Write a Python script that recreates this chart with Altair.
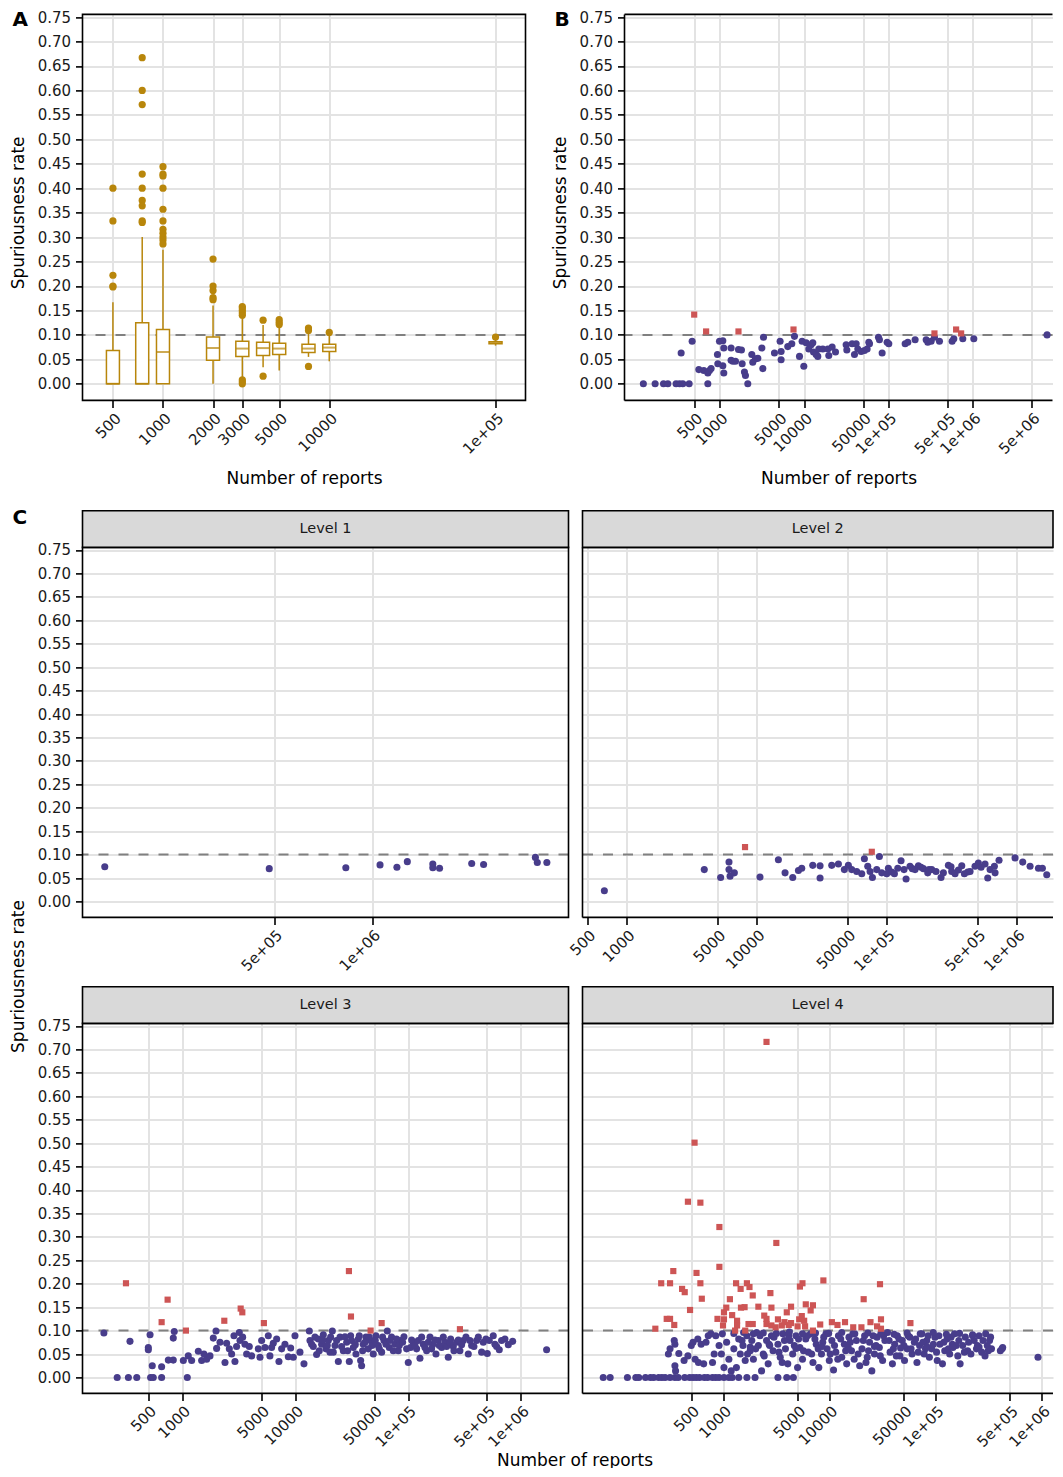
import altair as alt
import pandas as pd

FONT = "DejaVu Sans"
PURPLE = "#483D8B"
RED = "#CD5555"
GOLD = "#B8860B"
GRID = "#E3E3E3"
DASH = "#808080"
INK = "#1A1A1A"

Y_TICKS = [0.0, 0.05, 0.1, 0.15, 0.2, 0.25, 0.3, 0.35, 0.4, 0.45, 0.5, 0.55, 0.6, 0.65, 0.7, 0.75]
THRESHOLD = [0.1]
Y_DOMAIN = [-0.034, 0.7555]

# ---------------- Panel A : box summaries per number of reports
a_reports = [500, 750, 1000, 2000, 3000, 4000, 5000, 7500, 10000, 100000]
a_lower = [0.0, 0.0, 0.0, 0.0, 0.007, 0.034, 0.027, 0.055, 0.046, 0.078]
a_q1 = [0.0, 0.0, 0.0, 0.048, 0.056, 0.058, 0.060, 0.064, 0.066, 0.082]
a_median = [0.0, 0.0, 0.065, 0.073, 0.072, 0.073, 0.072, 0.072, 0.074, 0.084]
a_q3 = [0.068, 0.125, 0.111, 0.0955, 0.087, 0.085, 0.083, 0.081, 0.081, 0.086]
a_upper = [0.167, 0.300, 0.274, 0.160, 0.133, 0.120, 0.116, 0.106, 0.099, 0.093]
a_outliers = [
    (500, 0.400), (500, 0.333), (500, 0.222), (500, 0.200), (500, 0.198),
    (750, 0.667), (750, 0.600), (750, 0.571), (750, 0.429), (750, 0.400), (750, 0.375),
    (750, 0.364), (750, 0.333), (750, 0.330),
    (1000, 0.444), (1000, 0.429), (1000, 0.425), (1000, 0.400), (1000, 0.357), (1000, 0.333),
    (1000, 0.316), (1000, 0.308), (1000, 0.300), (1000, 0.294), (1000, 0.286),
    (2000, 0.255), (2000, 0.200), (2000, 0.191), (2000, 0.176), (2000, 0.172),
    (3000, 0.158), (3000, 0.155), (3000, 0.150), (3000, 0.145), (3000, 0.140),
    (3000, 0.008), (3000, 0.004), (3000, 0.0),
    (4000, 0.130), (4000, 0.0155),
    (5000, 0.131), (5000, 0.126), (5000, 0.121),
    (7500, 0.114), (7500, 0.109), (7500, 0.0355),
    (10000, 0.105),
    (100000, 0.0955),
]

# ---------------- Panel B : (number of reports, spuriousness rate)
b_points = [
    (124, 0), (171, 0), (215, 0), (242, 0), (303, 0), (333, 0), (364, 0), (433, 0), (721, 0),
    (348, 0.063), (470, 0.087), (564, 0.029), (646, 0.027), (721, 0.022), (754, 0.027), (789, 0.031),
    (947, 0.041), (938, 0.060), (991, 0.087), (1086, 0.088), (1086, 0.037), (1115, 0.022), (1115, 0.073),
    (1361, 0.048), (1361, 0.073), (1426, 0.046), (1534, 0.046), (1665, 0.070), (1806, 0.069), (1841, 0.041),
    (1960, 0.024), (2014, 0.017), (2147, 0.0), (2395, 0.060), (2460, 0.044), (2647, 0.051), (2823, 0.052),
    (3150, 0.073), (3297, 0.095), (3236, 0.031), (4447, 0.063), (5188, 0.087), (5333, 0.066), (5333, 0.049),
    (6397, 0.076), (7140, 0.082), (7680, 0.097), (8810, 0.056), (9460, 0.087), (9910, 0.036), (10570, 0.084),
    (11360, 0.071), (12100, 0.080), (12670, 0.084), (12910, 0.065), (13870, 0.060), (14520, 0.056),
    (14930, 0.071), (16640, 0.071), (19100, 0.071), (19600, 0.058), (21480, 0.075), (23550, 0.065),
    (31480, 0.080), (32070, 0.069), (37070, 0.082), (39540, 0.060), (41400, 0.082), (43280, 0.071),
    (47420, 0.066), (51880, 0.068), (55840, 0.071), (58450, 0.085), (59570, 0.082), (76100, 0.095),
    (78200, 0.090), (84100, 0.063), (96400, 0.085), (100900, 0.082), (157700, 0.082), (169500, 0.085),
    (207000, 0.090), (280000, 0.090), (292600, 0.085), (320600, 0.087), (351000, 0.095), (402500, 0.087),
    (568800, 0.087), (595700, 0.092), (760800, 0.092), (1028000, 0.092), (7600000, 0.100),
]
b_above = [(497, 0.1415), (688, 0.107), (1665, 0.107), (7480, 0.111), (351000, 0.103), (634000, 0.111), (727000, 0.103)]

# ---------------- Panel C, Level 1
l1_points = [
    (151000, 0.074), (483000, 0.070), (830000, 0.072), (1057000, 0.078), (1191000, 0.073), (1282000, 0.085),
    (1535000, 0.080), (1535000, 0.072), (1610000, 0.071), (2021000, 0.081), (2198000, 0.079),
    (3170000, 0.094), (3213000, 0.083), (3438000, 0.083),
]
l1_above = []

# ---------------- Panel C, Level 2
l2_points = [
    (673, 0.023), (3950, 0.068), (5280, 0.051), (6120, 0.084), (6120, 0.068), (6240, 0.054), (6730, 0.061),
    (10600, 0.052), (14680, 0.089), (16520, 0.061), (18930, 0.051), (20930, 0.066), (22200, 0.071),
    (26980, 0.077), (30710, 0.076), (30710, 0.050), (37760, 0.077), (42500, 0.080), (47230, 0.068),
    (50690, 0.077), (53800, 0.068), (58780, 0.064), (64260, 0.059), (67330, 0.091), (71450, 0.075),
    (74470, 0.064), (77620, 0.051), (83780, 0.068), (87830, 0.096), (91580, 0.061), (100000, 0.059),
    (103000, 0.071), (109200, 0.063), (114600, 0.059), (121600, 0.071), (128900, 0.087), (135900, 0.068),
    (140900, 0.048), (151100, 0.075), (157400, 0.070), (165200, 0.068), (175300, 0.076), (183600, 0.073),
    (191500, 0.070), (206700, 0.061), (211700, 0.068), (222000, 0.068), (239500, 0.064), (261700, 0.051),
    (272800, 0.061), (298100, 0.077), (312300, 0.074), (316200, 0.064), (335500, 0.059), (356000, 0.067),
    (377800, 0.076), (395700, 0.059), (420000, 0.063), (437600, 0.064), (477900, 0.075), (507100, 0.082),
    (532000, 0.073), (570400, 0.080), (598400, 0.050), (623700, 0.068), (673400, 0.075), (681300, 0.061),
    (731000, 0.088), (970800, 0.093), (1112000, 0.084), (1267000, 0.075), (1469000, 0.071),
    (1575000, 0.071), (1702000, 0.057),
]
l2_above = [(8130, 0.116), (76770, 0.106)]

# ---------------- Panel C, Level 3
l3_points = [
    (202, 0.095), (265, 0), (333, 0), (395, 0), (344, 0.077), (518, 0.091), (500, 0.064), (500, 0.059),
    (524, 0), (553, 0), (542, 0.025), (656, 0.023), (656, 0), (752, 0.037), (832, 0.037), (849, 0.098),
    (832, 0.084), (1021, 0.036), (1107, 0), (1130, 0.046), (1210, 0.036), (1387, 0.056), (1484, 0.036),
    (1555, 0.050), (1643, 0.039), (1759, 0.046), (1882, 0.084), (1988, 0.099), (2014, 0.062), (2157, 0.075),
    (2389, 0.032), (2471, 0.073), (2609, 0.061), (2735, 0.050), (2869, 0.089), (2927, 0.034), (3025, 0.066),
    (3197, 0.096), (3243, 0.079), (3423, 0.086), (3589, 0.071), (3714, 0.050), (3920, 0.066), (4111, 0.046),
    (4712, 0.061), (4876, 0.043), (5044, 0.079), (5399, 0.064), (5776, 0.089), (5970, 0.046), (6180, 0.064),
    (6395, 0.073), (6850, 0.082), (7180, 0.034), (7585, 0.061), (8115, 0.071), (8690, 0.044), (9120, 0.063),
    (9620, 0.043), (9955, 0.089), (11020, 0.054), (11960, 0.029), (13340, 0.099), (13520, 0.079),
    (14460, 0.066), (15480, 0.049), (16030, 0.082), (17150, 0.071), (17750, 0.091), (18740, 0.061),
    (19650, 0.079), (20330, 0.054), (21330, 0.099), (22510, 0.068), (24110, 0.034), (24950, 0.086),
    (26690, 0.057), (28590, 0.075), (30150, 0.034), (30980, 0.089), (32730, 0.064), (34530, 0.050),
    (36230, 0.082), (37990, 0.036), (38760, 0.025), (40080, 0.071), (42340, 0.086), (44400, 0.061),
    (46560, 0.079), (49170, 0.050), (51910, 0.089), (54440, 0.068), (58320, 0.054), (61150, 0.079),
    (65450, 0.099), (68130, 0.064), (71390, 0.086), (76500, 0.071), (81860, 0.057), (85930, 0.079),
    (91900, 0.087), (100400, 0.032), (105200, 0.064), (111100, 0.075), (119000, 0.061), (127400, 0.041),
    (136400, 0.071), (145900, 0.057), (156300, 0.086), (165000, 0.070), (176600, 0.050), (185100, 0.079),
    (198200, 0.064), (212200, 0.075), (227000, 0.043), (238200, 0.082), (251400, 0.066), (269000, 0.075),
    (287900, 0.057), (308300, 0.079), (341400, 0.050), (365600, 0.068), (404900, 0.079), (448100, 0.054),
    (489400, 0.082), (502800, 0.051), (568200, 0.089), (608400, 0.066), (642400, 0.059), (721000, 0.082),
    (843800, 0.077), (1687000, 0.059),
    (13990, 0.071), (14960, 0.086), (16340, 0.057), (17500, 0.080), (19240, 0.068), (20600, 0.086),
    (21740, 0.054), (23280, 0.079), (25760, 0.066), (27590, 0.087), (29120, 0.057), (31600, 0.079),
    (34060, 0.070), (36960, 0.089), (39550, 0.057), (41490, 0.075), (45300, 0.086), (47850, 0.068),
    (51200, 0.079), (55570, 0.061), (59450, 0.086), (63640, 0.071), (69050, 0.079), (73920, 0.057),
    (79090, 0.082), (83530, 0.068), (89460, 0.075), (97080, 0.061), (107500, 0.080), (115100, 0.068),
    (123100, 0.079), (131800, 0.086), (141000, 0.064), (150900, 0.075), (161500, 0.061), (172900, 0.080),
    (188900, 0.068), (205000, 0.086), (219400, 0.066), (234900, 0.075), (254800, 0.057), (278400, 0.080),
    (298000, 0.070), (325700, 0.086), (353200, 0.079), (383100, 0.066), (418800, 0.086), (463700, 0.075),
    (524000, 0.079), (587700, 0.071), (673400, 0.079), (772400, 0.070),
]
l3_above = [
    (317, 0.201), (741, 0.166), (656, 0.118), (1077, 0.100), (2355, 0.121), (3289, 0.147), (3400, 0.139),
    (5280, 0.116), (29920, 0.227), (31190, 0.130), (46560, 0.100), (58320, 0.116), (287900, 0.103),
]

# ---------------- Panel C, Level 4
l4_points = [
    (74, 0), (86, 0), (125, 0), (150, 0), (160, 0), (185, 0), (206, 0), (221, 0), (246, 0), (264, 0),
    (283, 0), (315, 0), (350, 0), (376, 0), (433, 0), (482, 0), (518, 0), (555, 0), (596, 0), (663, 0),
    (711, 0), (791, 0), (849, 0), (912, 0), (1014, 0), (1128, 0), (1211, 0), (1396, 0), (1667, 0),
    (1990, 0), (3268, 0), (3958, 0), (4563, 0),
    (304, 0.050), (315, 0.061), (345, 0.079), (350, 0.071), (350, 0.025), (355, 0.014), (381, 0.051),
    (427, 0.036), (464, 0.046), (499, 0.068), (518, 0.075), (543, 0.039), (575, 0.082), (583, 0.032),
    (618, 0.071), (653, 0.029), (687, 0.075), (721, 0.089), (764, 0.093), (791, 0.032), (820, 0.050),
    (849, 0.089), (912, 0.068), (959, 0.050), (979, 0.093), (1014, 0.021), (1074, 0.075), (1128, 0.039),
    (1186, 0.014), (1256, 0.061), (1328, 0.021), (1445, 0.050), (1500, 0.079), (1607, 0.036), (1667, 0.089),
    (1791, 0.057), (1919, 0.039), (2061, 0.096), (2138, 0.068), (2291, 0.014), (2377, 0.050), (2553, 0.079),
    (2644, 0.029), (2838, 0.089), (2938, 0.057), (3268, 0.071), (3436, 0.043), (3636, 0.093), (3846, 0.061),
    (4045, 0.029), (4249, 0.079), (4496, 0.050), (4830, 0.089), (5000, 0.021), (5262, 0.064), (5563, 0.039),
    (5970, 0.082), (6324, 0.054), (6640, 0.093), (6982, 0.032), (7496, 0.071), (7925, 0.021), (8398, 0.050),
    (8826, 0.086), (9463, 0.061), (9949, 0.036), (10520, 0.079), (10910, 0.016), (11460, 0.054),
    (12130, 0.089), (13030, 0.043), (13800, 0.071), (14500, 0.029), (15240, 0.086), (16110, 0.057),
    (17060, 0.039), (17920, 0.079), (19230, 0.025), (20220, 0.061), (21400, 0.089), (22650, 0.043),
    (23810, 0.075), (25020, 0.014), (26490, 0.050), (28010, 0.086), (29440, 0.064), (31600, 0.036),
    (33200, 0.079), (35150, 0.096), (37200, 0.054), (39090, 0.029), (41100, 0.071), (43470, 0.089),
    (46010, 0.046), (48400, 0.079), (50830, 0.036), (53800, 0.061), (56920, 0.086), (59830, 0.050),
    (62910, 0.075), (66570, 0.032), (70450, 0.068), (74010, 0.093), (77800, 0.050), (82350, 0.079),
    (87130, 0.043), (91560, 0.061), (98330, 0.086), (103300, 0.036), (109300, 0.071), (115700, 0.029),
    (121600, 0.057), (127900, 0.082), (135300, 0.050), (143200, 0.071), (150400, 0.093), (161400, 0.046),
    (169700, 0.029), (179500, 0.068), (190000, 0.086), (199800, 0.057), (214400, 0.050), (230100, 0.079),
    (241900, 0.061), (256000, 0.089), (271000, 0.054), (291000, 0.046), (305600, 0.068), (321300, 0.079),
    (335000, 0.061), (406000, 0.057), (421000, 0.061), (427000, 0.064), (918000, 0.043),
    (1396, 0.082), (1531, 0.068), (1690, 0.050), (1854, 0.079), (2018, 0.061), (2213, 0.089), (2427, 0.046),
    (2699, 0.071), (3000, 0.086), (3342, 0.054), (3582, 0.032), (3763, 0.079), (4128, 0.089), (4660, 0.068),
    (5108, 0.082), (5684, 0.057), (6185, 0.089), (6787, 0.050), (7283, 0.082), (7816, 0.061), (8630, 0.075),
    (9262, 0.093), (10160, 0.050), (11140, 0.068), (11960, 0.039), (12750, 0.082), (14190, 0.057),
    (15680, 0.075), (16590, 0.093), (18590, 0.050), (20810, 0.079), (22030, 0.032), (23290, 0.057),
    (25740, 0.089), (27420, 0.068), (30060, 0.046), (32270, 0.089), (36410, 0.079), (39920, 0.061),
    (42560, 0.046), (45070, 0.082), (50120, 0.068), (54950, 0.089), (58600, 0.061), (64710, 0.082),
    (68500, 0.054), (75640, 0.075), (80040, 0.061), (84760, 0.089), (94860, 0.071), (101800, 0.054),
    (107100, 0.089), (119100, 0.075), (131600, 0.061), (139300, 0.086), (156100, 0.068), (165000, 0.079),
    (186100, 0.054), (204100, 0.075), (222300, 0.089), (247200, 0.068), (278700, 0.079), (312500, 0.057),
    (328400, 0.086),
    (1256, 0.094), (1552, 0.096), (1919, 0.093), (2376, 0.095), (3155, 0.094), (4188, 0.097), (5560, 0.093),
    (7380, 0.095), (9810, 0.094), (13030, 0.096), (17300, 0.093), (22960, 0.095), (30480, 0.094),
    (40550, 0.092), (53800, 0.095), (71450, 0.093), (94860, 0.096), (125900, 0.092), (167500, 0.094),
    (222300, 0.091), (295200, 0.093),
    (1791, 0.065), (2735, 0.068), (4830, 0.062), (8510, 0.066), (15000, 0.064), (26490, 0.066),
    (46670, 0.063), (82350, 0.066), (145200, 0.064), (255900, 0.065),
]
l4_above = [
    (2550, 0.716), (536, 0.501), (464, 0.375), (608, 0.373), (918, 0.321), (3155, 0.287), (338, 0.227),
    (559, 0.223), (918, 0.236), (260, 0.201), (315, 0.201), (608, 0.201), (409, 0.189), (433, 0.182),
    (627, 0.168), (486, 0.144), (293, 0.125), (315, 0.125), (345, 0.112), (229, 0.104), (881, 0.125),
    (1014, 0.124), (993, 0.111), (1014, 0.139), (1066, 0.149), (1153, 0.167), (1211, 0.133), (1319, 0.201),
    (1347, 0.121), (1347, 0.111), (1291, 0.100), (1455, 0.189), (1466, 0.149), (1585, 0.150), (1667, 0.201),
    (1763, 0.193), (1726, 0.114), (1607, 0.100), (1892, 0.114), (1892, 0.175), (2138, 0.151), (2428, 0.132),
    (2550, 0.125), (2550, 0.114), (2774, 0.180), (2837, 0.149), (2837, 0.111), (3111, 0.107), (3268, 0.124),
    (3556, 0.111), (3765, 0.118), (3958, 0.139), (4129, 0.112), (4341, 0.151), (4341, 0.116), (5000, 0.109),
    (5180, 0.124), (5260, 0.194), (5560, 0.201), (5480, 0.131), (5770, 0.121), (5975, 0.156), (5890, 0.109),
    (6640, 0.143), (6980, 0.154), (6980, 0.100), (8170, 0.113), (8750, 0.207), (10520, 0.118), (11880, 0.112),
    (13990, 0.118), (16710, 0.107), (19960, 0.107), (20960, 0.167), (24300, 0.118), (28030, 0.109),
    (29870, 0.199), (30510, 0.124), (30510, 0.104), (57760, 0.116),
]

# ---------------- axis tick values
a_xticks = [500, 1000, 2000, 3000, 5000, 10000, 100000]
b_xticks = [500, 1000, 5000, 10000, 50000, 100000, 500000, 1000000, 5000000]
l1_xticks = [500000, 1000000]
c_xticks = [500, 1000, 5000, 10000, 50000, 100000, 500000, 1000000]

LABEL_EXPR = ("datum.value >= 100000 ? replace(format(datum.value, '.0e'), 'e+', 'e+0') "
              ": format(datum.value, 'd')")


def pts_df(pairs):
    return pd.DataFrame({"reports": [p[0] for p in pairs], "rate": [p[1] for p in pairs]})


def x_axis(ticks, title=None, title_x=None, title_y=83):
    kw = dict(values=ticks, labelExpr=LABEL_EXPR, labelAngle=315, labelAlign="right",
              labelBaseline="top", labelPadding=3, labelOverlap=False, labelFlush=False,
              grid=True, ticks=True, tickSize=7, domain=False)
    if title:
        kw.update(title=title, titleY=title_y, titleBaseline="alphabetic")
        if title_x is not None:
            kw["titleX"] = title_x
    else:
        kw["title"] = None
    return alt.Axis(**kw)


def y_axis(labels=True, title=None, title_y=193):
    kw = dict(values=Y_TICKS, format=".2f", grid=True, domain=False)
    if labels:
        kw.update(labels=True, ticks=True, tickSize=7, labelPadding=5)
    else:
        kw.update(labels=False, ticks=False)
    if title:
        kw.update(title=title, titleX=-59, titleY=title_y, titleBaseline="alphabetic",
                  titleAngle=270, titleAlign="center")
    else:
        kw["title"] = None
    return alt.Axis(**kw)


def frame_layers(width, height, right_col):
    one = pd.DataFrame({"k": [0]})
    if not right_col:
        return [alt.Chart(one).mark_rect(fillOpacity=0, stroke="black", strokeWidth=1.6).encode(
            x=alt.value(0), x2=alt.value(width), y=alt.value(0), y2=alt.value(height))]
    rule = dict(color="black", strokeWidth=1.6)
    return [
        alt.Chart(one).mark_rule(**rule).encode(x=alt.value(0), x2=alt.value(width), y=alt.value(0)),
        alt.Chart(one).mark_rule(**rule).encode(x=alt.value(0), x2=alt.value(width), y=alt.value(height)),
        alt.Chart(one).mark_rule(**rule).encode(x=alt.value(0), y=alt.value(0), y2=alt.value(height)),
    ]


def letter_layer(letter, y=12):
    return alt.Chart(pd.DataFrame({"label": [letter]})).mark_text(
        font=FONT, fontSize=20, fontWeight="bold", align="left", baseline="alphabetic", color="black"
    ).encode(text="label:N", x=alt.value(-70), y=alt.value(y))


def strip_layers(label, width, sh=36.7):
    d = pd.DataFrame({"label": [label]})
    rect = alt.Chart(d).mark_rect(fill="#D9D9D9", stroke="black", strokeWidth=1.6).encode(
        x=alt.value(0), x2=alt.value(width), y=alt.value(-sh), y2=alt.value(0))
    txt = alt.Chart(d).mark_text(font=FONT, fontSize=14.5, color=INK, baseline="middle").encode(
        text="label:N", x=alt.value(width / 2), y=alt.value(-sh / 2))
    return [rect, txt]


def scatter_panel(points, above, xdom, width, height, xaxis, yaxis, right_col,
                  strip=None, letter=None, letter_y=12):
    xs = alt.Scale(type="log", domain=xdom, nice=False)
    ys = alt.Scale(domain=Y_DOMAIN, nice=False, zero=False)
    X = alt.X("reports:Q", scale=xs, axis=xaxis)
    Y = alt.Y("rate:Q", scale=ys, axis=yaxis)
    thr = alt.Chart(pd.DataFrame({"rate": THRESHOLD})).mark_rule(
        color=DASH, strokeDash=[10, 10], strokeWidth=2).encode(y=Y)
    layers = [thr]
    layers.append(alt.Chart(pts_df(points)).mark_circle(size=50, color=PURPLE, opacity=1).encode(x=X, y=Y))
    if above:
        layers.append(alt.Chart(pts_df(above)).mark_square(size=38, color=RED, opacity=1).encode(x=X, y=Y))
    layers += frame_layers(width, height, right_col)
    if strip:
        layers += strip_layers(strip, width)
    if letter:
        layers.append(letter_layer(letter, letter_y))
    return alt.layer(*layers).properties(width=width, height=height)


# ---------------- Panel A (box plot)
A_W, A_H = 443, 386
box_df = pd.DataFrame({"reports": a_reports, "lower": a_lower, "q1": a_q1, "median": a_median,
                       "q3": a_q3, "upper": a_upper})
xsA = alt.Scale(type="log", domain=[351.6, 141300], nice=False)
ysA = alt.Scale(domain=Y_DOMAIN, nice=False, zero=False)
axA_x = x_axis(a_xticks, "Number of reports")
axA_y = y_axis(True, "Spuriousness rate", title_y=198)
XA = alt.X("reports:Q", scale=xsA, axis=axA_x)


def YA(field):
    return alt.Y(field + ":Q", scale=ysA, axis=axA_y)


baseA = alt.Chart(box_df)
thrA = alt.Chart(pd.DataFrame({"rate": THRESHOLD})).mark_rule(
    color=DASH, strokeDash=[10, 10], strokeWidth=2).encode(y=YA("rate"))
whisk_lo = baseA.mark_rule(color=GOLD, strokeWidth=1.5).encode(x=XA, y=YA("lower"), y2="q1:Q")
whisk_hi = baseA.mark_rule(color=GOLD, strokeWidth=1.5).encode(x=XA, y=YA("q3"), y2="upper:Q")
boxes = baseA.mark_bar(size=13, fill="white", stroke=GOLD, strokeWidth=1.5).encode(x=XA, y=YA("q1"), y2="q3:Q")
medians = baseA.mark_tick(orient="horizontal", size=13, thickness=2, color=GOLD).encode(x=XA, y=YA("median"))
outl = alt.Chart(pts_df(a_outliers)).mark_circle(size=52, color=GOLD, opacity=1).encode(x=XA, y=YA("rate"))
panelA = alt.layer(thrA, whisk_lo, whisk_hi, boxes, medians, outl,
                   *frame_layers(A_W, A_H, False), letter_layer("A")).properties(width=A_W, height=A_H)

# ---------------- Panel B
B_W = 428
panelB = scatter_panel(b_points, b_above, [74.1, 8.81e6], B_W, A_H,
                       x_axis(b_xticks, "Number of reports"), y_axis(True, "Spuriousness rate", title_y=198),
                       True, letter="B")

# ---------------- Panel C
C_H = 370
L_W, R_W = 486, 470.5
p1 = scatter_panel(l1_points, l1_above, [129000, 4.006e6], L_W, C_H, x_axis(l1_xticks), y_axis(True),
                   False, strip="Level 1", letter="C", letter_y=-23.7)
p2 = scatter_panel(l2_points, l2_above, [457, 1.901e6], R_W, C_H, x_axis(c_xticks), y_axis(False),
                   True, strip="Level 2")
p3 = scatter_panel(l3_points, l3_above, [130.6, 2.636e6], L_W, C_H,
                   x_axis(c_xticks, "Number of reports", title_x=492, title_y=72),
                   y_axis(True, "Spuriousness rate", title_y=-47.4), False, strip="Level 3")
p4 = scatter_panel(l4_points, l4_above, [47.2, 1.271e6], R_W, C_H, x_axis(c_xticks), y_axis(False),
                   True, strip="Level 4")

row1 = alt.hconcat(panelA, panelB, spacing=99, bounds="flush")
gridC = alt.concat(p1, p2, p3, p4, columns=2, spacing=alt.RowColnumber(row=106, column=14), bounds="flush")

chart = alt.vconcat(row1, gridC, spacing=21).properties(
    padding={"left": 0.5, "top": 1.4, "right": 0, "bottom": 0}
).configure_view(strokeWidth=0).configure_axis(
    labelFont=FONT, labelFontSize=15, labelColor=INK, titleFont=FONT, titleFontSize=17,
    titleFontWeight="normal", titleColor="black", tickColor="black", tickWidth=1.6,
    gridColor=GRID, gridWidth=2
)

chart.save("out.html", embed_options={"renderer": "svg", "actions": False})
